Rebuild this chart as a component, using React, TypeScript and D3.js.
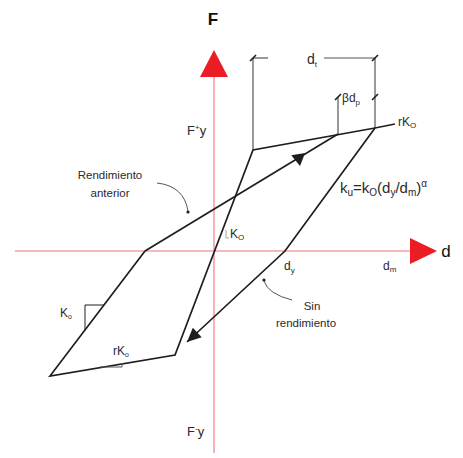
import * as d3 from "d3";

// diagram coordinates (d, F) in arbitrary units, origin at the axes crossing
const loop: [number, number][] = [
  [-6.9, 0],
  [-16.4, -12.5],
  [-3.9, -10.4],
  [3.9, 10.1],
  [16.1, 12.3],
  [18.1, 12.7],
];
const unloading: [number, number][] = [
  [16.1, 12.3],
  [7.1, 0],
  [-2.7, -9.1],
];
const reloading: [number, number][] = [
  [-6.9, 0],
  [12.4, 11.7],
];
const reloadArrow: [number, number][] = [
  [8.4, 9.8],
  [8.6, 8.5],
];
const dimTop: [number, number][] = [
  [3.9, 19.3],
  [16.1, 19.3],
];
const dimBeta: [number, number][] = [
  [12.4, 15.4],
  [16.1, 15.4],
];
const axisX = [-19.9, 19.6, 22.3];
const axisY = [-20.2, 17.4, 20.1];

const x = d3.scaleLinear().domain([-20, 20]).range([14, 414]);
const y = d3.scaleLinear().domain([-20, 20]).range([451, 51]);
const line = d3
  .line<[number, number]>()
  .x((d) => x(d[0]))
  .y((d) => y(d[1]));

const FONT = "Liberation Sans, Arial, sans-serif";
const INK = "#1e1e1e";
const GREY = "#555";

function arrowHead(from: [number, number], to: [number, number], len: number, half: number) {
  const x0 = x(from[0]), y0 = y(from[1]);
  const x1 = x(to[0]), y1 = y(to[1]);
  const l = Math.hypot(x1 - x0, y1 - y0);
  const ux = (x1 - x0) / l, uy = (y1 - y0) / l;
  const bx = x1 - ux * len, by = y1 - uy * len;
  return `${x1},${y1} ${bx - uy * half},${by + ux * half} ${bx + uy * half},${by - ux * half}`;
}

function tick(px: number, py: number) {
  return <line x1={px - 3} y1={py + 3} x2={px + 3} y2={py - 3} stroke={INK} strokeWidth={1.6} />;
}

export default function App() {
  const ox = x(0), oy = y(0);
  const t0 = dimTop[0], t1 = dimTop[1];
  const b0 = dimBeta[0], b1 = dimBeta[1];
  return (
    <svg width={463} height={458} style={{ position: "absolute", left: 0, top: 0, background: "#fff" }}>
      {/* axes */}
      <line x1={x(axisX[0])} y1={oy} x2={x(axisX[1])} y2={oy} stroke="#f2a0a4" strokeWidth={1.6} />
      <line x1={ox} y1={y(axisY[0])} x2={ox} y2={y(axisY[1])} stroke="#f2a0a4" strokeWidth={1.6} />
      <polygon
        points={`${x(axisX[2])},${oy} ${x(axisX[1])},${oy - 13} ${x(axisX[1])},${oy + 13}`}
        fill="#ec1c24"
      />
      <polygon
        points={`${ox},${y(axisY[2])} ${ox - 14},${y(axisY[1])} ${ox + 14},${y(axisY[1])}`}
        fill="#ec1c24"
      />

      {/* dimension lines */}
      <g stroke={GREY} strokeWidth={1.2} fill="none">
        <line x1={x(t0[0])} y1={y(t0[1])} x2={x(t0[0])} y2={y(10.1)} />
        <line x1={x(t1[0])} y1={y(t1[1])} x2={x(t1[0])} y2={y(12.3)} />
        <line x1={x(t0[0])} y1={y(t0[1])} x2={x(5.4)} y2={y(t0[1])} />
        <line x1={x(11)} y1={y(t0[1])} x2={x(t1[0])} y2={y(t1[1])} />
        <line x1={x(b0[0])} y1={y(b0[1])} x2={x(b0[0])} y2={y(11.7)} />
      </g>
      {tick(x(t0[0]), y(t0[1]))}
      {tick(x(t1[0]), y(t1[1]))}
      {tick(x(b0[0]), y(b0[1]))}
      {tick(x(b1[0]), y(b1[1]))}

      {/* hysteresis */}
      <path d={line(loop) ?? ""} fill="none" stroke={INK} strokeWidth={1.7} />
      <path d={line(unloading) ?? ""} fill="none" stroke={INK} strokeWidth={1.7} />
      <path d={line(reloading) ?? ""} fill="none" stroke={INK} strokeWidth={1.7} />
      <polygon points={arrowHead(unloading[1], unloading[2], 14, 6.5)} fill={INK} />
      <polygon points={arrowHead(reloadArrow[0], reloadArrow[1], 12, 7)} fill={INK} />

      {/* slope triangles */}
      <polyline points={`${x(-11)},${y(-5.4)} ${x(-12.9)},${y(-5.4)} ${x(-12.9)},${y(-7.9)}`} fill="none" stroke={INK} strokeWidth={1} />
      <polyline points={`${x(-11.4)},${y(-11.6)} ${x(-9.2)},${y(-11.6)} ${x(-9.2)},${y(-11.2)}`} fill="none" stroke={GREY} strokeWidth={1} />
      <polyline points={`${x(1.2)},${y(2.1)} ${x(1.2)},${y(1.3)} ${x(1.5)},${y(1.3)}`} fill="none" stroke="#9aa" strokeWidth={1} />

      {/* curved leaders */}
      <path d="M157,183 Q184,186 188,211" fill="none" stroke={GREY} strokeWidth={1} />
      <circle cx={188} cy={212} r={1.6} fill={INK} />
      <path d="M292,300 Q268,294 264,281" fill="none" stroke={GREY} strokeWidth={1} />
      <circle cx={264} cy={280} r={1.6} fill={INK} />

      {/* labels */}
      <g fontFamily={FONT} fill="#2a2a2a">
        <text x={213} y={25} fontSize={17} fontWeight="bold" textAnchor="middle" fill="#111">F</text>
        <text x={446} y={257} fontSize={17} textAnchor="middle" fill="#111">d</text>
        <text x={187} y={135} fontSize={13}>
          F<tspan fontSize={8} dy={-5}>+</tspan><tspan dy={5}>y</tspan>
        </text>
        <text x={187} y={436} fontSize={13}>
          F<tspan fontSize={8} dy={-5}>-</tspan><tspan dy={5}>y</tspan>
        </text>
        <text x={110} y={179} fontSize={11.5} textAnchor="middle">Rendimiento</text>
        <text x={110} y={197} fontSize={11.5} textAnchor="middle">anterior</text>
        <text x={312} y={310} fontSize={11.5} textAnchor="middle">Sin</text>
        <text x={306} y={327} fontSize={11.5} textAnchor="middle">rendimiento</text>
        <text x={307} y={64} fontSize={14}>
          d<tspan fontSize={8} dy={3}>t</tspan>
        </text>
        <text x={342} y={102} fontSize={12}>
          βd<tspan fontSize={8} dy={3}>p</tspan>
        </text>
        <text x={398} y={126} fontSize={12}>
          rK<tspan fontSize={8} dy={2}>O</tspan>
        </text>
        <text x={230} y={238} fontSize={12}>
          K<tspan fontSize={8} dy={2}>O</tspan>
        </text>
        <text x={60} y={317} fontSize={12}>
          K<tspan fontSize={7} dy={2}>o</tspan>
        </text>
        <text x={113} y={355} fontSize={12}>
          rK<tspan fontSize={7} dy={2}>o</tspan>
        </text>
        <text x={284} y={270} fontSize={12}>
          d<tspan fontSize={8} dy={3}>y</tspan>
        </text>
        <text x={383} y={270} fontSize={12}>
          d<tspan fontSize={8} dy={2}>m</tspan>
        </text>
        <text x={340} y={193} fontSize={15}>
          k<tspan fontSize={10} dy={3}>u</tspan>
          <tspan dy={-3}>=k</tspan>
          <tspan fontSize={10} dy={3}>O</tspan>
          <tspan dy={-3}>(d</tspan>
          <tspan fontSize={10} dy={3}>y</tspan>
          <tspan dy={-3}>/d</tspan>
          <tspan fontSize={10} dy={3}>m</tspan>
          <tspan dy={-3}>)</tspan>
          <tspan fontSize={10} dy={-6}>α</tspan>
        </text>
      </g>
    </svg>
  );
}
